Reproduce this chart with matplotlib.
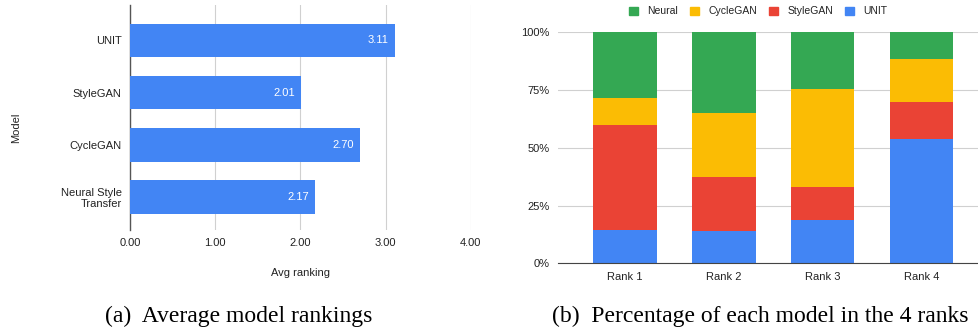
import numpy as np
import matplotlib
matplotlib.use('Agg')
import matplotlib.pyplot as plt
from matplotlib.patches import Patch

# left panel: average ranking per model
models = ['Neural Style\nTransfer', 'CycleGAN', 'StyleGAN', 'UNIT']
avg_rank = [2.17, 2.70, 2.01, 3.11]

# right panel: share of each model in each rank (percent)
ranks = ['Rank 1', 'Rank 2', 'Rank 3', 'Rank 4']
unit_pct = [14.6, 13.9, 18.8, 53.7]
stylegan_pct = [45.4, 23.3, 14.1, 16.3]
cyclegan_pct = [11.4, 27.7, 42.7, 18.5]
neural_pct = [28.6, 35.1, 24.4, 11.5]

blue = '#4285F4'
red = '#EA4335'
yellow = '#FBBC04'
green = '#34A853'
grid_c = '#d0d0d0'
txt_c = '#222222'

plt.rcParams['font.family'] = ['Liberation Sans', 'DejaVu Sans']
fs = 8

W, H = 979, 332
fig = plt.figure(figsize=(W / 100, H / 100), dpi=100)


def box(x0, y0, x1, y1):
    # pixel box (top-left origin) -> figure fraction
    return [x0 / W, 1 - y1 / H, (x1 - x0) / W, (y1 - y0) / H]


# ---- (a) horizontal bars
ax1 = fig.add_axes(box(130, 5, 470.7, 230))
y = np.arange(len(models))
ax1.barh(y, avg_rank, height=0.64, color=blue, zorder=3)
for yi, v in zip(y, avg_rank):
    ax1.text(v - 0.07, yi, f'{v:.2f}', color='white', ha='right', va='center',
             fontsize=fs, zorder=4)
ax1.set_xlim(0, 4)
ax1.set_ylim(-0.63, 3.68)
ax1.set_xticks([0, 1, 2, 3, 4])
ax1.set_xticklabels([f'{t:.2f}' for t in [0, 1, 2, 3, 4]])
ax1.set_yticks(y)
ax1.set_yticklabels(models, linespacing=1.15)
ax1.grid(axis='x', color=grid_c, linewidth=0.8, zorder=0)
for s in ['top', 'right', 'bottom']:
    ax1.spines[s].set_visible(False)
ax1.spines['left'].set_color('#555555')
ax1.spines['left'].set_linewidth(1.0)
ax1.tick_params(length=0, labelsize=fs, colors=txt_c, pad=6)
ax1.set_xlabel('Avg ranking', fontsize=fs, color=txt_c, labelpad=14)
ax1.set_ylabel('Model', fontsize=fs, color=txt_c)
ax1.yaxis.set_label_coords(-0.32, 0.453)

# ---- (b) stacked percentage bars
ax2 = fig.add_axes(box(558.3, 32.3, 979, 263.3))
x = np.arange(len(ranks))
bw = 0.64
bottom = np.zeros(len(ranks))
for vals, col in [(unit_pct, blue), (stylegan_pct, red),
                  (cyclegan_pct, yellow), (neural_pct, green)]:
    v = np.array(vals) / 100.0
    ax2.bar(x, v, bw, bottom=bottom, color=col, zorder=3)
    bottom += v
ax2.set_xlim(-0.675, 3.58)
ax2.set_ylim(0, 1)
ax2.set_yticks([0, 0.25, 0.5, 0.75, 1.0])
ax2.set_yticklabels(['0%', '25%', '50%', '75%', '100%'])
ax2.set_xticks(x)
ax2.set_xticklabels(ranks)
ax2.grid(axis='y', color=grid_c, linewidth=0.8, zorder=0)
for s in ['top', 'right', 'left']:
    ax2.spines[s].set_visible(False)
ax2.spines['bottom'].set_color('#444444')
ax2.spines['bottom'].set_zorder(5)
ax2.tick_params(length=0, labelsize=fs, colors=txt_c, pad=6)
ax2.set_axisbelow(True)

handles = [Patch(color=green, label='Neural'), Patch(color=yellow, label='CycleGAN'),
           Patch(color=red, label='StyleGAN'), Patch(color=blue, label='UNIT')]
fig.legend(handles=handles, loc='center', bbox_to_anchor=(758 / W, 1 - 11.5 / H),
           ncol=4, frameon=False, fontsize=7.5, handlelength=0.9, handleheight=0.9,
           handletextpad=0.9, columnspacing=1.1, labelcolor=txt_c)

# captions
fig.text(239 / W, 1 - 316 / H, '(a)  Average model rankings', ha='center', va='center',
         fontsize=17, family='Liberation Serif')
fig.text(760 / W, 1 - 316 / H, '(b)  Percentage of each model in the 4 ranks', ha='center',
         va='center', fontsize=17, family='Liberation Serif')

fig.savefig('out.png', dpi=100)
